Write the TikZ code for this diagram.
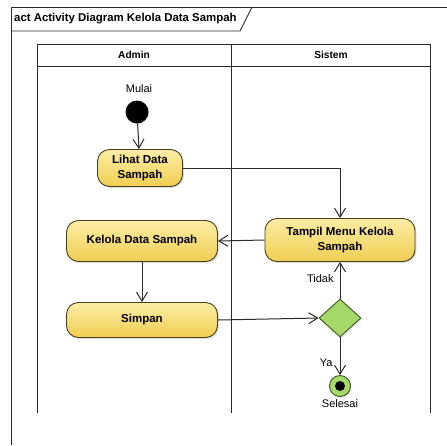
\documentclass[tikz,border=0pt]{standalone}
\usepackage{fontspec}
\setmainfont{Liberation Sans}
\usetikzlibrary{arrows.meta,shapes.geometric,shadows}
\definecolor{actTop}{HTML}{FCEDA6}
\definecolor{actBot}{HTML}{F0CE52}
\definecolor{actBorder}{HTML}{4A3F1C}
\definecolor{decFill}{HTML}{A6D86A}
\definecolor{decBorder}{HTML}{3A5520}
\definecolor{lineCol}{HTML}{2B2B2B}
\begin{document}
\begin{tikzpicture}[x=1pt,y=-1pt,
  frameline/.style={draw=lineCol, line width=0.9pt},
  lane/.style={draw=lineCol, line width=1pt},
  action/.style={draw=actBorder, line width=0.9pt, rounded corners=12pt,
    top color=actTop, bottom color=actBot, align=center,
    font=\bfseries\fontsize{11.5}{15}\selectfont, inner sep=2pt,
    drop shadow={opacity=0.25, shadow xshift=1.5pt, shadow yshift=-1.5pt}},
  decision/.style={diamond, draw=decBorder, fill=decFill, line width=0.9pt,
    minimum width=42pt, minimum height=38pt, inner sep=0pt,
    drop shadow={opacity=0.2, shadow xshift=1.5pt, shadow yshift=-1.5pt}},
  lbl/.style={font=\fontsize{11}{13}\selectfont, text=black, inner sep=1pt},
  hdr/.style={font=\bfseries\fontsize{10.2}{12}\selectfont, inner sep=1pt},
  flow/.style={draw=lineCol, line width=1pt,
    -{Straight Barb[length=9pt, width=11pt, line width=1pt]}}
]
\useasboundingbox (0,0) rectangle (447,445);
% frame
\draw[frameline] (11,445) -- (11,7) -- (447,7);
\draw[frameline] (11,31) -- (240,31) -- (252,7);
\node[anchor=west, font=\bfseries\fontsize{11.4}{13}\selectfont, inner sep=0pt] (title) at (14,19) {act Activity Diagram Kelola Data Sampah};
% swimlanes
\draw[lane] (37,413) -- (37,44) -- (430,44) -- (430,413);
\draw[lane] (37,66) -- (430,66);
\draw[lane] (231,44) -- (231,413);
\node[hdr] (hadmin) at (134,55) {Admin};
\node[hdr] (hsistem) at (331,55) {Sistem};
% nodes
\node[lbl] (mulai) at (139,89) {Mulai};
\node[circle, fill=black, minimum size=23pt, inner sep=0pt,
  drop shadow={opacity=0.2, shadow xshift=1pt, shadow yshift=-1pt}] (start) at (137,112) {};
\node[action, minimum width=85pt, minimum height=37pt] (lihat) at (140,168) {Lihat Data\\Sampah};
\node[action, minimum width=150pt, minimum height=43pt] (tampil) at (340,240) {Tampil Menu Kelola\\Sampah};
\node[action, minimum width=151pt, minimum height=41pt] (kelola) at (142,241) {Kelola Data Sampah};
\node[action, minimum width=151pt, minimum height=35pt] (simpan) at (142,320) {Simpan};
\node[decision] (dec) at (340,318) {};
\node[circle, draw=decBorder, fill=decFill, line width=0.9pt, minimum size=21pt, inner sep=0pt,
  drop shadow={opacity=0.2, shadow xshift=1pt, shadow yshift=-1pt}] (final) at (340,386) {};
\node[circle, fill=black, minimum size=10pt, inner sep=0pt] (finaldot) at (final.center) {};
\node[lbl] (selesai) at (340,404) {Selesai};
% connectors
\draw[flow] (start) -- (lihat);
\draw[flow] (lihat.east) -| (tampil.north);
\draw[flow] (tampil.west) -- (kelola.east);
\draw[flow] (kelola) -- (simpan);
\draw[flow] (simpan.east) -- (dec.west);
\draw[flow] (dec.north) -- node[lbl, pos=0.55, left=5pt] (tidak) {Tidak} (tampil.south);
\draw[flow] (dec.south) -- node[lbl, pos=0.68, left=6pt] (ya) {Ya} (final.north);
\end{tikzpicture}
\end{document}
